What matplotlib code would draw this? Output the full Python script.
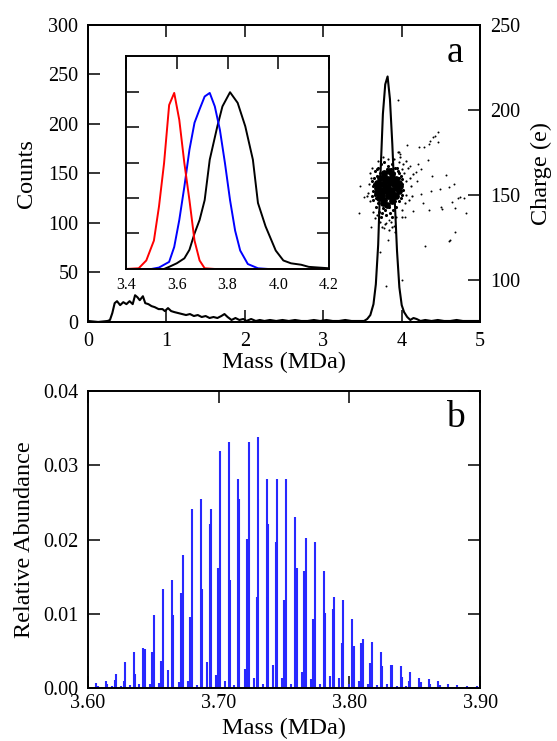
import numpy as np
import matplotlib
matplotlib.use("Agg")
import matplotlib.pyplot as plt
from matplotlib.ticker import FormatStrFormatter

plt.rcParams['font.family'] = ['Liberation Serif', 'DejaVu Serif']

# --- Panel a: mass histogram ---
hist_mass = [0.0, 0.13, 0.25, 0.28, 0.31, 0.34, 0.37, 0.41, 0.45, 0.49, 0.53, 0.57, 0.60,
             0.63, 0.66, 0.70, 0.73, 0.77, 0.81, 0.85, 0.90, 0.95, 0.98, 1.02, 1.06, 1.10,
             1.15, 1.20, 1.25, 1.30, 1.35, 1.40, 1.45, 1.50, 1.55, 1.60, 1.65, 1.70, 1.74,
             1.78, 1.83, 1.88, 1.93, 1.98, 2.02, 2.08, 2.14, 2.19, 2.25, 2.32, 2.40, 2.48,
             2.56, 2.64, 2.72, 2.80, 2.88, 2.96, 3.04, 3.12, 3.20, 3.28, 3.36, 3.44, 3.52,
             3.56, 3.60, 3.64, 3.67, 3.70, 3.73, 3.76, 3.79, 3.82, 3.85, 3.88, 3.91, 3.94,
             3.97, 4.00, 4.03, 4.07, 4.11, 4.15, 4.19, 4.24, 4.30, 4.38, 4.46, 4.54, 4.62,
             4.70, 4.78, 4.86, 4.94, 5.0]
hist_counts = [1, 0, 1, 2, 9, 19, 21, 17, 20, 18, 21, 18, 27,
               25, 22, 26, 19, 18, 16, 15, 13, 13, 11, 14, 11, 10,
               9, 8, 7, 8, 6, 7, 5, 6, 4, 5, 4, 6, 8,
               5, 2, 4, 2, 3, 1, 3, 1, 2, 1, 2, 1, 2,
               1, 2, 1, 1, 2, 1, 2, 1, 1, 2, 1, 1, 1,
               3, 7, 18, 38, 78, 150, 210, 240, 248, 225, 180, 125, 72,
               35, 17, 10, 5, 2, 4, 3, 1, 2, 1, 2, 1, 1,
               2, 1, 1, 1, 1]

# charge vs mass scatter (right axis)
core_mass = [3.78, 3.84, 3.88,
             3.72, 3.77, 3.82, 3.87, 3.93,
             3.69, 3.74, 3.79, 3.85, 3.90, 3.96,
             3.68, 3.73, 3.79, 3.83, 3.88, 3.94, 3.98,
             3.69, 3.75, 3.80, 3.86, 3.91, 3.96,
             3.71, 3.77, 3.82, 3.87, 3.93,
             3.76, 3.81, 3.87]
core_charge = [163, 164, 162,
               160, 161, 159, 160, 159,
               157, 156, 158, 157, 156, 157,
               154, 153, 155, 154, 153, 154, 155,
               151, 150, 152, 151, 150, 152,
               148, 147, 149, 148, 149,
               145, 144, 146]
fringe_mass = [3.62, 3.63, 3.64, 3.65, 3.66, 3.67, 3.70, 3.71, 3.74, 3.75, 3.78, 3.80,
               3.83, 3.85, 3.87, 3.89, 3.91, 3.93, 3.95, 3.97, 3.99, 4.00, 4.01, 4.02,
               3.64, 3.66, 3.70, 3.72, 3.98, 3.96, 3.90, 3.92, 3.76, 3.84, 3.68, 3.99,
               3.62, 3.81, 3.73, 3.88, 3.65, 3.67, 3.69, 3.94, 3.97, 4.00, 3.79, 3.86]
fringe_charge = [158, 152, 147, 160, 164, 143, 166, 140, 168, 139, 169, 138,
                 167, 139, 168, 141, 166, 143, 164, 146, 161, 150, 156, 153,
                 155, 150, 145, 163, 157, 160, 163, 146, 142, 143, 161, 148,
                 149, 165, 137, 137, 156, 148, 165, 166, 163, 159, 141, 165]
halo_mass = [3.58, 3.57, 3.59, 3.60, 3.62, 3.63, 3.66, 3.70, 3.72, 3.76, 3.79, 3.83,
             3.86, 3.90, 3.93, 3.96, 4.00, 4.03, 4.05, 4.06, 4.04, 4.08, 4.10, 4.12,
             4.06, 4.02, 3.98, 3.95, 4.00, 4.09, 3.61, 3.56, 3.68, 3.88, 3.84, 3.75,
             4.14, 4.13, 4.01, 3.92]
halo_charge = [156, 151, 146, 163, 166, 140, 136, 170, 134, 172, 133, 171,
               134, 171, 137, 169, 141, 163, 158, 150, 145, 166, 160, 155,
               170, 168, 172, 175, 165, 147, 160, 149, 138, 131, 129, 131,
               162, 149, 137, 128]
outlier_mass = [3.95, 4.07, 4.22, 4.29, 4.33, 4.35, 4.36, 4.40, 4.43, 4.46, 4.46, 3.96,
                3.98, 4.11, 4.21, 4.24, 4.18, 4.20, 4.38, 4.57, 4.49, 4.37, 4.60, 4.67,
                4.24, 4.27, 4.35, 4.15, 4.04, 4.50, 4.51, 4.68, 4.64, 4.72, 4.80, 4.82,
                4.68, 4.60, 4.30, 3.82, 3.72, 3.61, 3.46, 3.52, 3.47, 3.77, 3.90, 3.84,
                3.80, 3.80, 4.01, 4.61, 4.74]
outlier_charge = [206, 179, 178, 178, 170.5, 179.6, 181.6, 184, 184.5, 187, 181, 175.4,
                  173.7, 167, 168, 165, 163.6, 158, 161, 161.6, 153.4, 152.4, 154.3, 156.3,
                  150.4, 145, 141, 140.5, 136.6, 143, 141.5, 142, 145.5, 148, 148, 139,
                  128.3, 122.8, 120, 123.4, 116, 131, 139.5, 148.4, 155, 130.3, 131.7, 135,
                  133.6, 96, 100, 123.2, 148.4]

# inset: mass distributions
red_mass = [3.40, 3.45, 3.48, 3.51, 3.53, 3.55, 3.57, 3.59, 3.61, 3.63, 3.65, 3.67, 3.69,
            3.71, 3.75, 4.20]
red_counts = [0, 1, 12, 40, 88, 149, 231, 248, 210, 149, 97, 40, 12, 1, 0, 0]
blue_mass = [3.40, 3.50, 3.53, 3.57, 3.59, 3.61, 3.63, 3.65, 3.67, 3.69, 3.71, 3.73, 3.75,
             3.77, 3.79, 3.81, 3.83, 3.85, 3.88, 3.92, 3.96, 4.20]
blue_counts = [0, 0, 2, 10, 31, 69, 116, 168, 206, 225, 243, 248, 229, 196, 149, 97, 54,
               26, 7, 1, 0, 0]
black_mass = [3.40, 3.55, 3.57, 3.60, 3.63, 3.65, 3.67, 3.69, 3.71, 3.73, 3.76, 3.78, 3.81,
              3.84, 3.87, 3.90, 3.92, 3.95, 3.99, 4.02, 4.05, 4.09, 4.12, 4.16, 4.20]
black_counts = [0, 0, 3, 8, 15, 27, 50, 69, 97, 154, 201, 229, 249, 234, 201, 154, 93, 60,
                26, 12, 8, 6, 3, 2, 1]

# --- Panel b: stick spectrum ---
peak_mass = [3.6064, 3.6135, 3.6212, 3.6283, 3.6352, 3.6423, 3.6503, 3.6572, 3.6641,
             3.6725, 3.6794, 3.6862, 3.6941, 3.7008, 3.7077, 3.7146, 3.7230, 3.7299,
             3.7368, 3.7449, 3.7515, 3.7586, 3.7668, 3.7735, 3.7804, 3.7885, 3.7954,
             3.8023, 3.8102, 3.8173, 3.8242, 3.8319, 3.8393, 3.8464, 3.8535, 3.8610,
             3.8681, 3.8755, 3.8826, 3.8898, 3.8975]
peak_main = [0.0007, 0.0009, 0.0019, 0.0035, 0.0049, 0.0054, 0.0098, 0.0134, 0.0145,
             0.0179, 0.0241, 0.0255, 0.0241, 0.0319, 0.0331, 0.0282, 0.0331, 0.0338,
             0.0282, 0.0282, 0.0282, 0.0231, 0.0202, 0.0197, 0.0158, 0.0123, 0.0119,
             0.0093, 0.0066, 0.0062, 0.0048, 0.0031, 0.0030, 0.0022, 0.0014, 0.0012,
             0.0009, 0.0006, 0.0004, 0.0003, 0.0003]
side_offset = [0.0011, 0.0011, -0.0008, -0.0010, 0.0011, 0.0010, -0.0011, -0.0010, 0.0011,
               -0.0013, -0.0010, 0.0010, -0.0011, -0.0010, 0.0010, 0.0012, -0.0012, -0.0008,
               0.0012, -0.0012, -0.0012, 0.0010, -0.0012, -0.0012, 0.0012, -0.0012, -0.0012,
               0.0012, -0.0012, -0.0012, 0.0010, 0.0010, 0.0010, -0.0010, 0.0010, 0.0010,
               0.0010, 0.0010, 0.0010, 0.0010, 0.0010]
peak_side = [0.0003, 0.0006, 0.0011, 0.0009, 0.0019, 0.0053, 0.0049, 0.0037, 0.0098,
             0.0128, 0.0096, 0.0134, 0.0221, 0.0161, 0.0145, 0.0255, 0.0201, 0.0123,
             0.0221, 0.0197, 0.0119, 0.0161, 0.0158, 0.0093, 0.0101, 0.0106, 0.0061,
             0.0056, 0.0061, 0.0034, 0.0030, 0.0031, 0.0015, 0.0010, 0.0008, 0.0005,
             0.0004, 0.0002, 0.0002, 0.0001, 0.0001]
peak_small = [0.0, 0.0002, 0.0003, 0.0003, 0.0004, 0.0005, 0.0006, 0.0007, 0.0024, 0.0008,
              0.0009, 0.0004, 0.0035, 0.0018, 0.0009, 0.0004, 0.0026, 0.0013, 0.0006,
              0.0031, 0.0014, 0.0006, 0.0022, 0.0012, 0.0006, 0.0016, 0.0013, 0.0006,
              0.0010, 0.0006, 0.0004, 0.0005, 0.0003, 0.0003, 0.0002, 0.0002, 0.0001,
              0.0001, 0.0, 0.0, 0.0]

fig = plt.figure(figsize=(5.57, 7.41), dpi=100)

tick_kw = dict(direction='in', length=8.6, width=1.1, labelsize=14.5)
blue = '#2828ff'

# ---- top panel ----
ax1 = fig.add_axes([0.158, 0.5655, 0.704, 0.4008])
ax1.plot(hist_mass, hist_counts, color='black', lw=1.5)
ax1.set_xlim(0, 5)
ax1.set_ylim(0, 300)
ax1.set_xticks([0, 1, 2, 3, 4, 5])
ax1.set_yticks(np.arange(0, 301, 50))
ax1.tick_params(axis='x', top=True, pad=7, **tick_kw)
ax1.tick_params(axis='y', right=False, pad=7, **tick_kw)
ax1.set_xlabel('Mass (MDa)', fontsize=17.5, labelpad=1)
ax1.set_ylabel('Counts', fontsize=17.5, labelpad=8)
for s in ax1.spines.values():
    s.set_linewidth(1.4)
ax1.text(0.936, 0.875, 'a', transform=ax1.transAxes, fontsize=27, ha='center', va='baseline')

ax2 = ax1.twinx()
ax2.scatter(outlier_mass, outlier_charge, s=2, color='black', linewidths=0)
ax2.scatter(halo_mass, halo_charge, s=2.5, color='black', linewidths=0)
ax2.scatter(fringe_mass, fringe_charge, s=5, color='black', linewidths=0)
ax2.scatter(core_mass, core_charge, s=24, color='black', linewidths=0)
ax2.set_ylim(75, 250)
ax2.set_yticks([100, 150, 200, 250])
ax2.tick_params(axis='y', pad=7, **tick_kw)
ax2.set_ylabel('Charge (e)', fontsize=17.5, labelpad=8)
for s in ax2.spines.values():
    s.set_linewidth(1.4)

# inset
axi = fig.add_axes([0.2262, 0.637, 0.3645, 0.2874])
axi.plot(black_mass, black_counts, color='black', lw=1.4)
axi.plot(blue_mass, blue_counts, color='blue', lw=1.4)
axi.plot(red_mass, red_counts, color='red', lw=1.4)
axi.set_xlim(3.4, 4.2)
axi.set_ylim(0, 300)
axi.set_xticks([3.4, 3.6, 3.8, 4.0, 4.2])
axi.xaxis.set_major_formatter(FormatStrFormatter('%.1f'))
axi.set_yticks(np.arange(50, 300, 50))
axi.tick_params(axis='x', direction='in', length=9, width=1.1, labelsize=11.5,
                bottom=False, top=True, pad=6)
axi.tick_params(axis='y', direction='in', length=9, width=1.1, left=True, right=True,
                labelleft=False)
for s in axi.spines.values():
    s.set_linewidth(1.4)

# ---- bottom panel ----
ax3 = fig.add_axes([0.158, 0.0715, 0.704, 0.4008])
pm = np.array(peak_mass)
ax3.vlines(pm, 0, peak_main, color=blue, lw=1.5)
ax3.vlines(pm + np.array(side_offset), 0, peak_side, color=blue, lw=1.5)
ax3.vlines(pm - 0.003, 0, peak_small, color=blue, lw=1.5)
ax3.set_xlim(3.60, 3.90)
ax3.set_ylim(0, 0.04)
ax3.set_xticks([3.60, 3.70, 3.80, 3.90])
ax3.set_yticks([0.0, 0.01, 0.02, 0.03, 0.04])
ax3.xaxis.set_major_formatter(FormatStrFormatter('%.2f'))
ax3.yaxis.set_major_formatter(FormatStrFormatter('%.2f'))
ax3.tick_params(axis='x', top=True, pad=4, **tick_kw)
ax3.tick_params(axis='y', right=True, pad=7, **tick_kw)
ax3.set_xlabel('Mass (MDa)', fontsize=17.5, labelpad=4)
ax3.set_ylabel('Relative Abundance', fontsize=17.5, labelpad=6)
for s in ax3.spines.values():
    s.set_linewidth(1.4)
ax3.text(0.936, 0.879, 'b', transform=ax3.transAxes, fontsize=27, ha='center', va='baseline')

fig.savefig('out.png', dpi=100)
